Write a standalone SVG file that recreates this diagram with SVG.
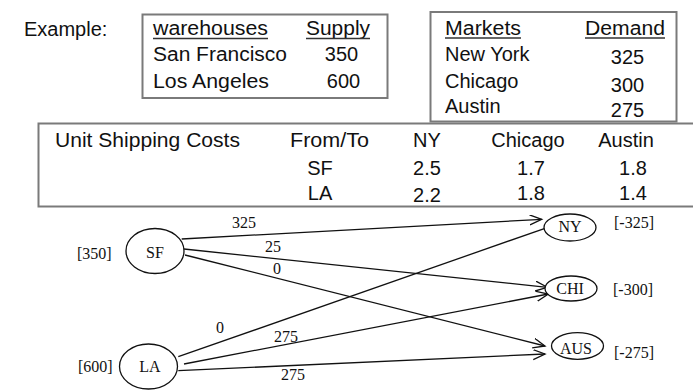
<svg xmlns="http://www.w3.org/2000/svg" width="693" height="390" viewBox="0 0 693 390">
<defs>
<style>
.s{font-family:"Liberation Sans",Arial,sans-serif;font-size:20px;fill:#111}
.t{font-family:"Liberation Serif","Times New Roman",serif;font-size:16px;fill:#111}
.m{text-anchor:middle}
.box{fill:#fff;stroke:#7a7a7a;stroke-width:2}
.ul{stroke:#333;stroke-width:1.5}
.node{fill:#fff;stroke:#111;stroke-width:1.3}
.edge{stroke:#111;stroke-width:1.3;fill:none}
</style>
<marker id="arr" markerUnits="userSpaceOnUse" markerWidth="14" markerHeight="12" refX="12" refY="5" orient="auto" viewBox="0 0 14 12">
<path d="M0,0 L12,5 L0,10" fill="none" stroke="#111" stroke-width="1.3"/>
</marker>
</defs>
<rect width="693" height="390" fill="#fff"/>

<g id="example">
<text class="s" x="24" y="36">Example:</text>
</g>

<g id="supply-table">
<rect class="box" x="142.5" y="14.5" width="245" height="83.5"/>
<text class="s" x="153" y="35" textLength="115" lengthAdjust="spacingAndGlyphs">warehouses</text>
<line class="ul" x1="153" y1="38.5" x2="268" y2="38.5"/>
<text class="s" x="306" y="35" textLength="64" lengthAdjust="spacingAndGlyphs">Supply</text>
<line class="ul" x1="306" y1="38.5" x2="370" y2="38.5"/>
<text class="s" x="153" y="61" textLength="134" lengthAdjust="spacingAndGlyphs">San Francisco</text>
<text class="s m" x="341.5" y="61">350</text>
<text class="s" x="153" y="88" textLength="116" lengthAdjust="spacingAndGlyphs">Los Angeles</text>
<text class="s m" x="343.5" y="88">600</text>
</g>

<g id="demand-table">
<rect class="box" x="430.5" y="12" width="246" height="109.5"/>
<text class="s" x="445" y="35" textLength="76" lengthAdjust="spacingAndGlyphs">Markets</text>
<line class="ul" x1="445" y1="38" x2="521" y2="38"/>
<text class="s" x="585" y="35" textLength="80" lengthAdjust="spacingAndGlyphs">Demand</text>
<line class="ul" x1="585" y1="38" x2="665" y2="38"/>
<text class="s" x="445" y="61">New York</text>
<text class="s m" x="627.5" y="64">325</text>
<text class="s" x="445" y="88">Chicago</text>
<text class="s m" x="627.5" y="91.5">300</text>
<text class="s" x="445" y="113">Austin</text>
<text class="s m" x="627.5" y="117">275</text>
</g>

<g id="cost-table">
<rect class="box" x="38.5" y="123.5" width="700" height="83"/>
<text class="s" x="55" y="147" textLength="185" lengthAdjust="spacingAndGlyphs">Unit Shipping Costs</text>
<text class="s" x="290" y="147" textLength="79" lengthAdjust="spacingAndGlyphs">From/To</text>
<text class="s m" x="427" y="147">NY</text>
<text class="s m" x="528" y="147">Chicago</text>
<text class="s m" x="626" y="147">Austin</text>
<text class="s m" x="320" y="175">SF</text>
<text class="s m" x="427" y="175">2.5</text>
<text class="s m" x="531" y="175">1.7</text>
<text class="s m" x="633" y="175">1.8</text>
<text class="s m" x="320" y="200">LA</text>
<text class="s m" x="427" y="202">2.2</text>
<text class="s m" x="531" y="200">1.8</text>
<text class="s m" x="633" y="200">1.4</text>
</g>

<g id="connectors">
<line class="edge" x1="181.7" y1="239" x2="541.7" y2="219.3" marker-end="url(#arr)"/>
<line class="edge" x1="184" y1="249" x2="547.3" y2="287.3" marker-end="url(#arr)"/>
<line class="edge" x1="185" y1="255" x2="545" y2="346" marker-end="url(#arr)"/>
<line class="edge" x1="178.3" y1="356.7" x2="545" y2="228.3"/>
<line class="edge" x1="184" y1="364" x2="548.3" y2="294" marker-end="url(#arr)"/>
<line class="edge" x1="178.3" y1="370.7" x2="545" y2="354" marker-end="url(#arr)"/>
<text class="t m" x="244" y="228">325</text>
<text class="t m" x="273" y="252">25</text>
<text class="t m" x="277" y="274">0</text>
<text class="t m" x="220" y="333">0</text>
<text class="t m" x="286" y="341.5">275</text>
<text class="t m" x="293" y="380">275</text>
</g>

<g id="node-SF">
<ellipse class="node" cx="155" cy="251" rx="29" ry="22.5"/>
<text class="t m" x="155" y="258">SF</text>
<text class="t" x="77" y="259">[350]</text>
</g>
<g id="node-LA">
<ellipse class="node" cx="148.5" cy="366.5" rx="29" ry="22.5"/>
<text class="t m" x="150" y="371.5">LA</text>
<text class="t" x="78" y="371.5">[600]</text>
</g>
<g id="node-NY">
<ellipse class="node" cx="570" cy="227.5" rx="26" ry="13.5"/>
<text class="t m" x="570" y="232">NY</text>
<text class="t" x="614" y="227.5">[-325]</text>
</g>
<g id="node-CHI">
<ellipse class="node" cx="571" cy="288.5" rx="26" ry="12.5"/>
<text class="t m" x="570" y="293.5">CHI</text>
<text class="t" x="613" y="295">[-300]</text>
</g>
<g id="node-AUS">
<ellipse class="node" cx="577.5" cy="346" rx="26" ry="13.3"/>
<text class="t m" x="576" y="353.5">AUS</text>
<text class="t" x="614" y="358">[-275]</text>
</g>
</svg>
